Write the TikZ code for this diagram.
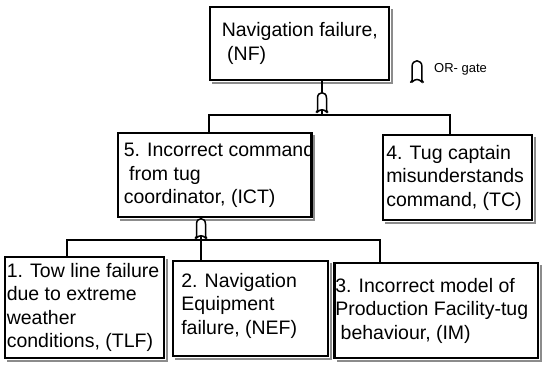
\documentclass[tikz,border=0pt]{standalone}
\usepackage{fontspec}
\setmainfont{Liberation Sans}

\tikzset{
  evbox/.style={draw, line width=1.9pt, fill=white, inner sep=0pt},
  evtext/.style={align=left, inner sep=0pt, font=\fontsize{19.5}{23.5}\selectfont},
  conn/.style={line width=1.6pt},
  boxshade/.style={fill=black!45},
  orgate/.pic={
    \filldraw[fill=white, line width=1.5pt] (-4.5,0) -- (-4.5,-14)
      .. controls (-4.5,-21) and (4.5,-21) .. (4.5,-14) -- (4.5,0)
      .. controls (1.5,-3) and (-1.5,-3) .. cycle;
    \draw[line width=1.3pt] (-4.5,-1.5) -- (-6,0.5);
    \draw[line width=1.3pt] (4.5,-1.5) -- (6,0.5);
  }
}
% grey shadow strip on the right and bottom of a box
\newcommand{\boxshadow}[1]{%
  \fill[boxshade] ([xshift=0.9pt,yshift=-3pt]#1.north east) rectangle ([xshift=3.5pt,yshift=-3.5pt]#1.south east);
  \fill[boxshade] ([xshift=3pt,yshift=-0.9pt]#1.south west) rectangle ([xshift=3.5pt,yshift=-3.5pt]#1.south east);}

\begin{document}
\begin{tikzpicture}[x=1pt, y=-1pt]
\useasboundingbox (0,0) rectangle (542,371);

% event boxes
\node[evbox, minimum width=179pt, minimum height=73pt] (NF) at (299.5,43.5) {};
\node[evbox, minimum width=193pt, minimum height=84pt] (ICT) at (214.5,175) {};
\node[evbox, minimum width=149pt, minimum height=85pt] (TC) at (457.5,177.5) {};
\node[evbox, minimum width=159pt, minimum height=101pt] (TLF) at (84.5,307.5) {};
\node[evbox, minimum width=155pt, minimum height=95pt] (NEF) at (250.5,308.5) {};
\node[evbox, minimum width=203pt, minimum height=95pt] (IM) at (436.5,310.5) {};
\boxshadow{NF}
\boxshadow{ICT}
\boxshadow{TC}
\boxshadow{TLF}
\boxshadow{NEF}
\boxshadow{IM}

% texts
\node[evtext, anchor=west] (NF-t) at ([xshift=12.5pt]NF.west)
  {Navigation failure,\\\hspace*{0.28em}(NF)};
\node[evtext, anchor=west] (ICT-t) at ([xshift=6.5pt]ICT.west)
  {5. Incorrect command\\\hspace*{0.28em}from tug\\coordinator, (ICT)};
\node[evtext, anchor=west] (TC-t) at ([xshift=4pt]TC.west)
  {4. Tug captain\\misunderstands\\command, (TC)};
\node[evtext, anchor=west] (TLF-t) at ([xshift=2.5pt]TLF.west)
  {1. Tow line failure\\due to extreme\\weather\\conditions, (TLF)};
\node[evtext, anchor=west] (NEF-t) at ([xshift=9pt, yshift=3pt]NEF.west)
  {2. Navigation\\Equipment\\failure, (NEF)};
\node[evtext, anchor=west] (IM-t) at ([xshift=1pt]IM.west)
  {3. Incorrect model of\\Production Facility-tug\\\hspace*{0.28em}behaviour, (IM)};
\draw[line width=1.9pt] (ICT.north east) -- (ICT.south east);
\draw[line width=1.9pt] (IM.north west) -- (IM.south west);

% upper gate
\coordinate (j1) at (322,115);
\draw[conn] (NF.south -| j1) -- (j1);
\draw[conn] ([xshift=-5.5pt]ICT.north) |- (j1) -| ([xshift=-7.5pt]TC.north);
\pic at (322,112) {orgate};

% lower gate
\coordinate (j2) at (201,240);
\draw[conn] (ICT.south -| j2) -- (j2);
\draw[conn] ([xshift=-17.5pt]TLF.north) |- (j2) -| ([xshift=-56.5pt]IM.north);
\draw[conn] (j2) -- (NEF.north -| j2);
\pic at (201,238) {orgate};

% legend
\pic[scale=1.1] at (417,82) {orgate};
\node[anchor=west, inner sep=0pt, font=\fontsize{13}{15}\selectfont] (OR-lbl) at (434,69) {OR- gate};
\end{tikzpicture}
\end{document}
